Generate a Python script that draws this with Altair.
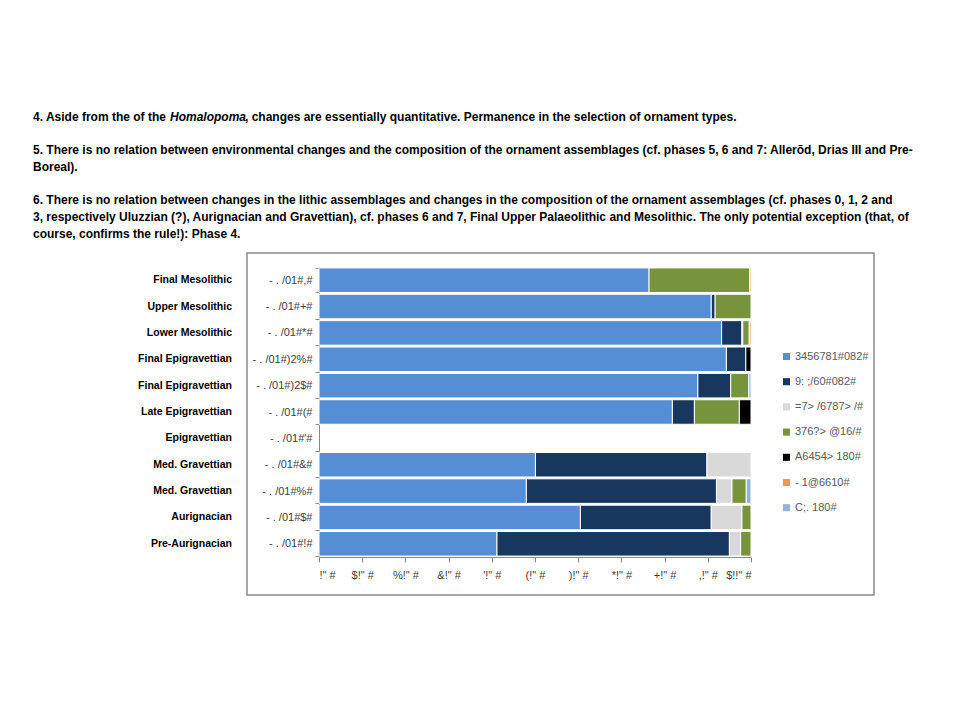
import json
import altair as alt
import pandas as pd

# ---------------- data ----------------
rows = ["- . /01#,#", "- . /01#+#", "- . /01#*#", "- . /01#)2%#", "- . /01#)2$#",
        "- . /01#(#", "- . /01#'#", "- . /01#&#", "- . /01#%#", "- . /01#$#", "- . /01#!#"]
names = ["Final Mesolithic", "Upper Mesolithic", "Lower Mesolithic", "Final Epigravettian",
         "Final Epigravettian", "Late Epigravettian", "Epigravettian", "Med. Gravettian",
         "Med. Gravettian", "Aurignacian", "Pre-Aurignacian"]
series = ["3456781#082#", "9: ;/60#082#", "=7> /6787> /#", "376?> @16/#",
          "A6454> 180#", "- 1@6610#", "C;. 180#"]
colors = ["#558ED5", "#17375E", "#D9D9D9", "#77933C", "#000000", "#F79646", "#95B3D7"]

s_blue   = [76.4, 90.8, 93.2, 94.3, 87.7, 81.8, 0, 50.1, 48.0, 60.5, 41.2]
s_navy   = [0.0, 0.9, 4.7, 4.5, 7.6, 5.1, 0, 39.7, 44.0, 30.3, 53.8]
s_grey   = [0.0, 0.0, 0.2, 0.0, 0.0, 0.0, 0, 10.2, 3.6, 7.1, 2.6]
s_green  = [23.3, 8.3, 1.5, 0.0, 4.2, 10.4, 0, 0.0, 3.3, 2.1, 2.4]
s_black  = [0.0, 0.0, 0.0, 1.2, 0.0, 2.7, 0, 0.0, 0.0, 0.0, 0.0]
s_orange = [0.3, 0.0, 0.4, 0.0, 0.0, 0.0, 0, 0.0, 0.0, 0.0, 0.0]
s_lblue  = [0.0, 0.0, 0.0, 0.0, 0.5, 0.0, 0, 0.0, 1.1, 0.0, 0.0]
values = [s_blue, s_navy, s_grey, s_green, s_black, s_orange, s_lblue]

tick_values = [0, 10, 20, 30, 40, 50, 60, 70, 80, 90, 100]
tick_labels = ['!" #', '$!" #', '%!" #', '&!" #', "'!\" #", '(!" #', ')!" #',
               '*!" #', '+!" #', ',!" #', '$!!" #']

line1a = "4. Aside from the of the"
line1b = "Homalopoma"
line1c = ", changes are essentially quantitative. Permanence in the selection  of ornament types."
line5a = "5. There is no relation between environmental changes and the composition of the ornament assemblages  (cf. phases 5, 6 and 7: Allerõd,  Drias III and Pre-"
line5b = "Boreal)."
line6a = "6. There is no relation between changes in the lithic assemblages and changes in the composition of the ornament assemblages  (cf. phases 0, 1, 2 and"
line6b = "3, respectively Uluzzian (?), Aurignacian and Gravettian), cf. phases 6 and 7, Final Upper Palaeolithic and Mesolithic.  The only potential exception (that, of"
line6c = "course, confirms the rule!): Phase 4."

# ---------------- tables ----------------
records = []
for si, (s, vals) in enumerate(zip(series, values)):
    for ri, r in enumerate(rows):
        if vals[ri] > 0:
            records.append({"row": r, "series": s, "order": si, "value": vals[ri]})
df = pd.DataFrame(records)
names_df = pd.DataFrame({"row": rows, "name": names})

W, H = 432, 290
X0, Y0 = 319, 267  # plot origin on the page
TXT = "'Liberation Sans Narrow', 'Liberation Sans', sans-serif"
LAB = "'Liberation Sans', sans-serif"

yscale = alt.Scale(domain=rows, paddingInner=0.07, paddingOuter=0.035)
label_expr = json.dumps(tick_labels) + "[round(datum.value / 10)]"

bars = alt.Chart(df).mark_bar(stroke="white", strokeWidth=1).encode(
    x=alt.X("value:Q", stack="zero",
            scale=alt.Scale(domain=[0, 100], nice=False),
            axis=alt.Axis(title=None, values=tick_values, labelExpr=label_expr,
                          grid=False, domainColor="#8a8a8a", tickColor="#8a8a8a",
                          tickSize=5, labelPadding=7, labelFont=LAB, labelFontSize=11,
                          labelColor="#404040")),
    y=alt.Y("row:N", sort=rows, scale=yscale,
            axis=alt.Axis(title=None, tickBand="extent", tickSize=4, tickColor="#8a8a8a",
                          domainColor="#8a8a8a", labelFont=LAB, labelFontSize=11,
                          labelColor="#404040", labelPadding=3)),
    color=alt.Color("series:N", scale=alt.Scale(domain=series, range=colors),
                    legend=alt.Legend(orient="none", legendX=462, legendY=84, title=None,
                                      symbolType="square", symbolSize=50,
                                      symbolStrokeWidth=0, labelFont=LAB,
                                      labelFontSize=11, labelColor="#595959",
                                      labelOffset=3, rowPadding=13.2)),
    order=alt.Order("order:Q"),
)

outer = alt.Chart(names_df).mark_text(align="right", baseline="middle", font=TXT,
                                      fontWeight="bold", fontSize=10.5, color="#000").encode(
    y=alt.Y("row:N", sort=rows, scale=yscale),
    x=alt.value(232 - X0),
    text="name:N",
)

one = alt.Data(values=[{"k": 1}])

box = alt.Chart(one).mark_rect(filled=False, stroke="#8a8a8a", strokeWidth=1.5).encode(
    x=alt.value(247 - X0), x2=alt.value(874 - X0),
    y=alt.value(253 - Y0), y2=alt.value(595 - Y0))


def txt(s, ax, ay, italic=False):
    return alt.Chart(one).mark_text(align="left", baseline="middle", font=TXT,
                                    fontWeight="bold", fontSize=12, color="#000",
                                    fontStyle="italic" if italic else "normal").encode(
        x=alt.value(ax - X0), y=alt.value(ay - Y0), text=alt.value(s))


texts = [
    txt(line1a, 33, 117), txt(line1b, 170, 117, True), txt(line1c, 245, 117),
    txt(line5a, 33, 150), txt(line5b, 33, 167),
    txt(line6a, 33, 200), txt(line6b, 33, 217), txt(line6c, 33, 234),
]

chart = alt.layer(box, bars, outer, *texts).properties(
    width=W, height=H,
    autosize=alt.AutoSizeParams(type="none"),
    padding={"left": X0 - 8, "top": Y0 - 8, "right": 944 - (X0 - 8) - W, "bottom": 700 - (Y0 - 8) - H},
    background="white",
).configure_view(stroke=None)

chart.save("out.html", embed_options={"renderer": "svg", "actions": False})
